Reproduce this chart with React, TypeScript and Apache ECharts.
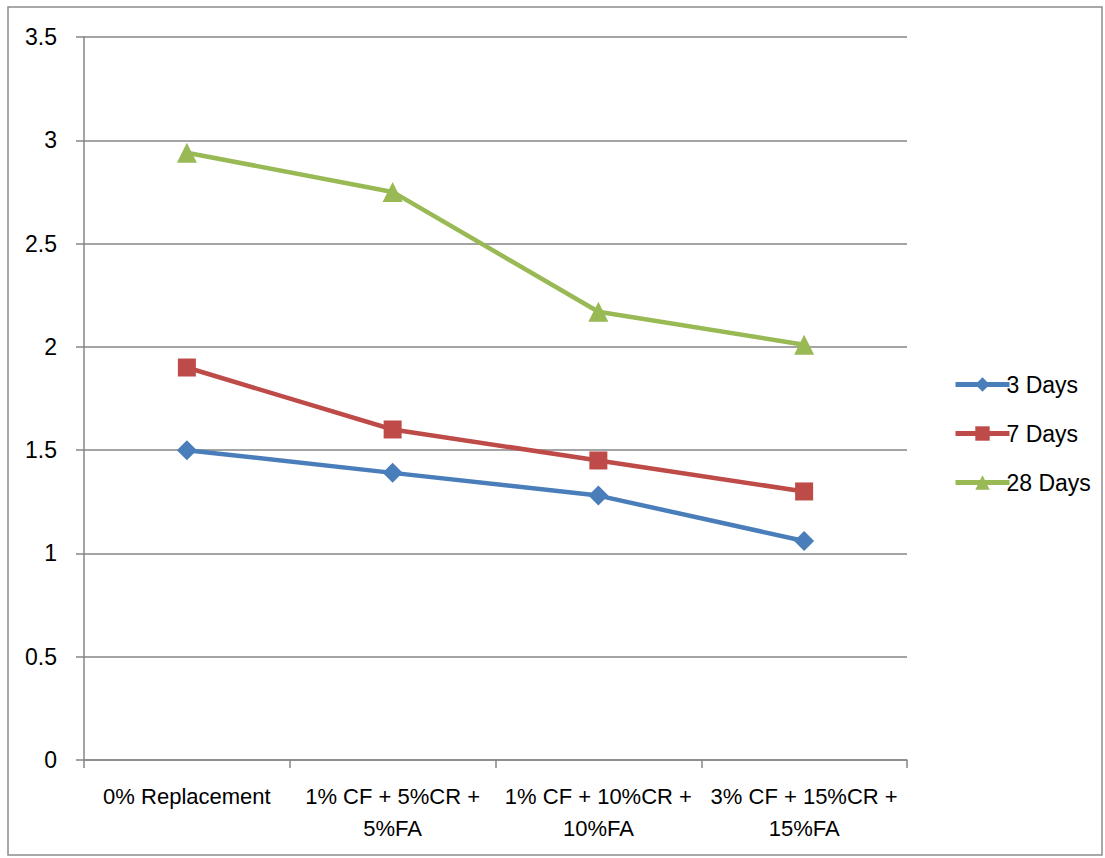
import React, { useEffect, useRef } from "react";
import * as echarts from "echarts";

const categories = [
  "0% Replacement",
  "1% CF + 5%CR +\n5%FA",
  "1% CF + 10%CR +\n10%FA",
  "3% CF + 15%CR +\n15%FA",
];
const days3 = [1.5, 1.39, 1.28, 1.06];
const days7 = [1.9, 1.6, 1.45, 1.3];
const days28 = [2.94, 2.75, 2.17, 2.01];
const yTicks = [0, 0.5, 1, 1.5, 2, 2.5, 3, 3.5];

const FONT = "'Liberation Sans', Arial, sans-serif";

export default function App() {
  const ref = useRef<HTMLDivElement>(null);
  useEffect(() => {
    if (!ref.current) return;
    const chart = echarts.init(ref.current, null, { renderer: "svg" });
    const mk = (name: string, data: number[], color: string, symbol: string, size: number) => ({
      name,
      type: "line",
      data,
      symbol,
      symbolSize: size,
      lineStyle: { color, width: 4.5 },
      itemStyle: { color },
      emphasis: { disabled: true },
    });
    chart.setOption({
      animation: false,
      backgroundColor: "#ffffff",
      textStyle: { fontFamily: FONT },
      graphic: [
        {
          type: "rect",
          shape: { x: 8, y: 7, width: 1094, height: 848 },
          style: { fill: "none", stroke: "#8c8c8c", lineWidth: 1.5 },
        },
      ],
      grid: { left: 84, right: 198, top: 37, bottom: 98 },
      legend: {
        orient: "vertical",
        left: 948,
        top: 368,
        itemWidth: 54,
        itemHeight: 18,
        itemGap: 26,
        lineStyle: { width: 5 },
        textStyle: { fontSize: 23, color: "#000", fontFamily: FONT, padding: [0, 0, 0, -8] },
        data: ["3 Days", "7 Days", "28 Days"],
      },
      xAxis: {
        type: "category",
        data: categories,
        boundaryGap: true,
        axisLine: { lineStyle: { color: "#868686", width: 1.5 } },
        axisTick: { show: true, length: 8, lineStyle: { color: "#868686", width: 1.5 } },
        axisLabel: {
          interval: 0,
          margin: 20,
          fontSize: 22,
          lineHeight: 32,
          color: "#000",
          fontFamily: FONT,
          align: "center",
        },
        splitLine: { show: false },
      },
      yAxis: {
        type: "value",
        min: 0,
        max: 3.5,
        interval: 0.5,
        axisLine: { show: true, lineStyle: { color: "#868686", width: 1.5 } },
        axisTick: { show: true, length: 8, lineStyle: { color: "#868686", width: 1.5 } },
        axisLabel: {
          margin: 27,
          fontSize: 23,
          color: "#000",
          fontFamily: FONT,
          formatter: (v: number) => (yTicks.includes(v) ? String(v) : ""),
        },
        splitLine: { show: true, lineStyle: { color: "#868686", width: 1.5 } },
      },
      series: [
        mk("3 Days", days3, "#4A7EBB", "diamond", 20),
        mk("7 Days", days7, "#BE4B48", "rect", 18),
        mk("28 Days", days28, "#98B954", "triangle", 20),
      ],
    });
    return () => chart.dispose();
  }, []);
  return (
    <div
      ref={ref}
      style={{ position: "absolute", left: 0, top: 0, width: 1105, height: 858 }}
    />
  );
}
